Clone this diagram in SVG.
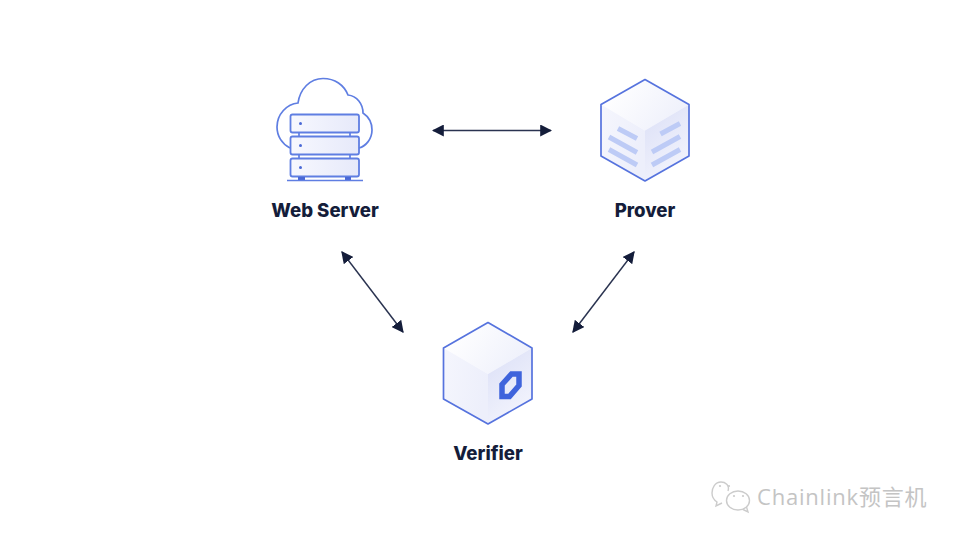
<svg xmlns="http://www.w3.org/2000/svg" width="960" height="540" viewBox="0 0 960 540">
  <style>
    .label { font-family: "Inter", "Liberation Sans", sans-serif; font-weight: 800; font-size: 18.600px; fill: #141d3a; text-anchor: middle; }
    .edge { fill: none; stroke: #2a3350; stroke-width: 1.500; marker-start: url(#head-start); marker-end: url(#head-end); }
    .hex { stroke: #5673de; stroke-width: 1.700; stroke-linejoin: round; }
    .rack { fill: url(#rack-fill); stroke: #5f7ee2; stroke-width: 1.800; }
    .outline { fill: none; stroke: #5f7ee2; stroke-width: 1.700; }
    .bar { stroke: #bdcbf6; stroke-width: 5; fill: none; }
    .dot { fill: #4a69d6; }
    .wm { fill: none; stroke: #cccccc; stroke-width: 1.400; }
    .eye { fill: #cccccc; }
    .mark { font-family: "Open Sans", "Noto Sans CJK SC", sans-serif; font-size: 22px; letter-spacing: 0.800px; fill: #c4c4c4; }
  </style>
  <defs>
    <marker id="head-end" viewBox="0 0 10 10" refX="9" refY="5" markerUnits="userSpaceOnUse" markerWidth="12" markerHeight="12" orient="auto">
      <path d="M0 0L10 5L0 10Z" fill="#141d3a"/>
    </marker>
    <marker id="head-start" viewBox="0 0 10 10" refX="1" refY="5" markerUnits="userSpaceOnUse" markerWidth="12" markerHeight="12" orient="auto">
      <path d="M10 0L0 5L10 10Z" fill="#141d3a"/>
    </marker>
    <linearGradient id="top-face" x1="0.100" y1="0.200" x2="1" y2="0.600">
      <stop offset="0" stop-color="#ffffff"/>
      <stop offset="1" stop-color="#eef0fb"/>
    </linearGradient>
    <linearGradient id="left-face" x1="0" y1="0" x2="1" y2="0.300">
      <stop offset="0" stop-color="#f5f6fd"/>
      <stop offset="1" stop-color="#edeffb"/>
    </linearGradient>
    <linearGradient id="right-face" x1="0.200" y1="0.050" x2="0.650" y2="1">
      <stop offset="0" stop-color="#dde1f7"/>
      <stop offset="1" stop-color="#f4f5fd"/>
    </linearGradient>
    <linearGradient id="rack-fill" x1="0" y1="0" x2="1" y2="0">
      <stop offset="0" stop-color="#f7f8fe"/>
      <stop offset="1" stop-color="#e6e9fa"/>
    </linearGradient>
  </defs>

  <rect width="960" height="540" fill="#ffffff"/>

  <g id="connectors">
    <line class="edge" x1="433" y1="130.500" x2="551" y2="130.500"/>
    <line class="edge" x1="342" y1="252" x2="403" y2="332"/>
    <line class="edge" x1="634" y1="252" x2="573" y2="332"/>
  </g>

  <g id="web-server">
    <path class="outline" d="M290 148C282 144 277 136 277 127C277 114 287 104 298 103C300 89 310 78.500 323 78.500C335 78.500 344 85 348 95C357 96 363 104 363 113C369 117 372 123 372 130C372 139 366 146 359 148"/>
    <rect class="rack" x="290.500" y="114.500" width="68.500" height="18" rx="2"/>
    <rect class="rack" x="290.500" y="136.500" width="68.500" height="18" rx="2"/>
    <rect class="rack" x="290.500" y="158.500" width="68.500" height="18" rx="2"/>
    <path class="outline" d="M299 132.500V136.500M350 132.500V136.500M299 154.500V158.500M350 154.500V158.500"/>
    <circle class="dot" cx="300.500" cy="123.500" r="1.500"/>
    <circle class="dot" cx="300.500" cy="145.500" r="1.500"/>
    <circle class="dot" cx="300.500" cy="167.500" r="1.500"/>
    <path d="M298 177H305V180H298ZM345 177H351V180H345Z" fill="#4a69d6"/>
    <line x1="287" y1="180.500" x2="363" y2="180.500" stroke="#5f7ee2" stroke-width="1.400"/>
    <text class="label" x="325" y="217">Web Server</text>
  </g>

  <g id="prover">
    <path d="M645 79.500L689 104.500L645 130.500L601 104.500Z" fill="url(#top-face)"/>
    <path d="M601 104.500L645 130.500V181L601 156Z" fill="url(#left-face)"/>
    <path d="M689 104.500L645 130.500V181L689 156Z" fill="url(#right-face)"/>
    <path class="bar" d="M618 128.500L637 138.500M609 137L637 152.500M609 149.500L637 165M660.500 134L680 123.500M652 152L680 136.500M652 165L680 149.500"/>
    <path class="hex" fill="none" d="M645 79.500L689 104.500V156L645 181L601 156V104.500Z"/>
    <text class="label" x="645" y="217">Prover</text>
  </g>

  <g id="verifier">
    <path d="M488 322.500L532 348L488 374L443.500 348Z" fill="url(#top-face)"/>
    <path d="M443.500 348L488 374V424L443.500 399Z" fill="url(#left-face)"/>
    <path d="M532 348L488 374V424L532 399Z" fill="url(#right-face)"/>
    <path fill="none" stroke="#3f64dc" stroke-width="5.500" d="M511.500 374H519V385.500L509.500 396.500H502V384.500Z"/>
    <path class="hex" fill="none" d="M488 322.500L532 348V399L488 424L443.500 399V348Z"/>
    <text class="label" x="488" y="460">Verifier</text>
  </g>

  <g id="watermark">
    <path class="wm" d="M728 491C730 485 725 482 721 482C715 482 712 488 712 493C712 497 714 500 717 502L716 506L722 503"/>
    <ellipse class="wm" cx="738" cy="500.500" rx="11.500" ry="9.500"/>
    <path class="wm" d="M743 509.500L748 512L746.500 507"/>
    <circle class="eye" cx="720" cy="486" r="1.100"/>
    <circle class="eye" cx="729" cy="486" r="1.100"/>
    <circle class="eye" cx="734" cy="496" r="1.100"/>
    <circle class="eye" cx="743" cy="496" r="1.100"/>
    <text class="mark" x="757" y="505">Chainlink预言机</text>
  </g>
</svg>
